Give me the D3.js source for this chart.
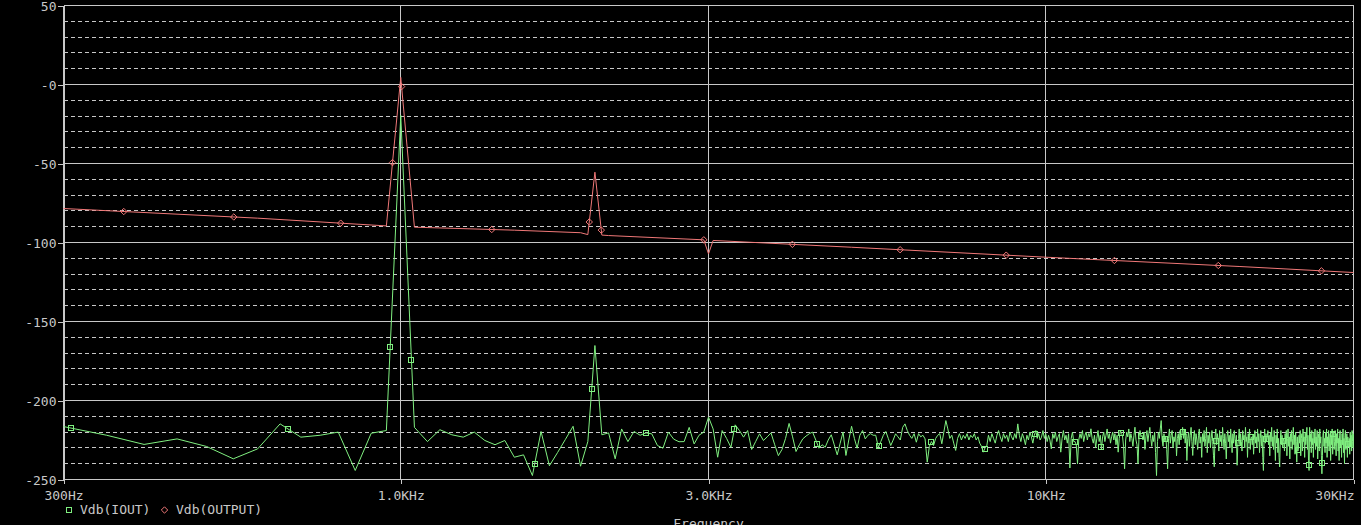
<!DOCTYPE html>
<html><head><meta charset="utf-8">
<script src="https://cdn.jsdelivr.net/npm/d3@7"></script>
<style>html,body{margin:0;padding:0;background:#000;overflow:hidden}</style>
</head><body><svg id="c" width="1361" height="525"></svg>
<script>
// ---- DATA ----
const startHz = 300, stepHz = 50;   // FFT bin grid of the IOUT trace
const ioutDb = [
// 300-1000
-216.5,-222,-227.8,-224.3,-229.1,-236.9,-230.6,-214.8,-223.2,-222,-220,-244.3,-220.7,-219,-19.6,
// 1050-2000
-217,-226,-218.5,-221.7,-223.2,-220,-225.3,-228,-225.3,-235.9,-234.4,-247.5,-219.6,-241.3,-233,-224.6,-216.3,-241.6,-226,-165.2,
// 2050-3000
-221.7,-220.5,-236.9,-218,-226,-219.6,-222,-220.5,-221.1,-228.5,-230.2,-220,-224.5,-226.1,-226,-217,-227.5,-222,-220,-210.5,
// 3050-4000
-218,-235.9,-219,-224,-229.6,-215.4,-219,-223.2,-219,-231,-226,-221.1,-225.3,-223,-220.5,-228,-234.9,-231,-224,-214.5,
// 4050-5000
-223,-232.3,-228,-224.3,-222.5,-221,-220,-225,-230.2,-228,-229.6,-225,-221.7,-228,-234.4,-227,-220,-234.8,-225,-216.3,
// 5050-6000
-224,-230.2,-222,-219,-224.3,-222,-221,-222,-222,-229.6,-226,-222,-219.6,-224,-228.5,-225,-221.1,-223,-225,-217,
// 6050-7000
-214.8,-219,-222,-224,-221,-226.4,-221,-223,-222,-224.3,-239,-229,-226,-228.5,-224,-222,-221,-227.4,-220,-212.7,
// 7050-8000
-218,-224,-222,-227,-231.6,-224,-221,-225,-222,-224,-221,-225,-222,-223.5,-221,-225,-223,-227,-229,-232.7,
// 8050-9000
-230,-229,-222,-226,-221,-224,-227,-222,-219,-223,-226,-221,-224,-222,-226,-220,-223,-225,-221,-224,
// 9050-10000
-214.8,-222,-226,-221,-224,-228,-222,-225,-220,-223,-227,-222,-219,-224,-221,-225,-223.2,-219,-224,-221,
// 10050-11000
-226,-222,-225,-230.6,-221,-224,-220,-226,-223,-221,-232.7,-224,-219,-225,-222,-227,-221,-242.7,-224,-220,
// 11050-12000
-226,-226,-228,-240,-225,-221,-224,-219,-226,-222,-220,-225,-221,-223,-217.9,-224,-227,-222,-230,-224,
// 12050-13000
-219,-226,-222,-231,-223,-220,-226,-222,-218,-224,-221,-227,-223,-220,-225,-221,-228,-222,-232.7,-224,
// 13050-14000
-219,-221,-222,-229,-243.2,-225,-220,-223,-218,-226,-221,-224,-229,-222,-216.9,-225,-228,-240,-223,-219,
// 14050-15000
-223,-222,-225,-220,-231,-223,-219,-226,-221,-217,-224,-229,-222,-226,-220,-233,-247.5,-226,-220,-224,
// 15050-16000
-218,-212.7,-225,-229,-221,-226,-223,-231,-243.2,-224,-218,-227,-222,-219,-230,-223,-226,-220,-235,-224,
// 16050-17000
-221,-228,-219,-225,-222,-217,-224,-218,-227,-221,-238,-224,-220,-229,-222,-217,-226,-234.8,-223,-219,
// 17050-18000
-228,-221,-225,-231,-222,-218,-227,-223,-236,-221,-226,-219,-229,-224,-217,-233,-222,-227,-220,-230,
// 18050-19000
-224,-219,-226,-235,-242,-223,-218,-228,-221,-225,-232,-219,-226,-222,-229,-217,-224,-231,-221,-227,
// 19050-20000
-237,-223,-219,-226,-222,-230,-218,-225,-233,-221,-227,-219,-224,-229,-222,-241,-228.5,-224,-218,-228,
// 20050-21000
-221,-226,-232,-219,-225,-222,-230,-217,-226,-223,-236,-221,-227,-218,-231,-224,-223,-228,-222,-234,
// 21050-22000
-225,-219,-227,-223,-230,-218,-226,-221,-233,-224,-219,-229,-222,-236,-244.3,-225,-218,-227,-221,-226,
// 22050-23000
-223,-219,-228,-222,-235,-220,-226,-217,-229,-223,-231,-219,-225,-238,-222,-227,-218,-233,-224,-236,
// 23050-24000
-242,-225,-219,-228,-222,-230,-224,-226,-232,-221,-227,-219,-235,-224,-218,-229,-223,-237,-221,-226,
// 24050-25000
-219,-231,-224,-217,-228,-222,-234,-220,-226,-239,-223,-232,-230,-222,-227,-219,-235,-224,-221,-232,
// 25050-26000
-218,-226,-223,-236,-220,-228,-224,-217,-231,-222,-238,-244.3,-217,-226,-221,-233,-219,-228,-224,-236,
// 26050-27000
-220,-227,-218,-231,-223,-229,-219,-237,-224,-221,-232,-218,-227,-223,-235,-246.4,-235,-222,-219,-229,
// 27050-28000
-224,-233,-220,-227,-218,-236,-223,-229,-219,-232,-225,-221,-238,-222,-228,-218,-234,-221,-220,-231,
// 28050-29000
-226,-219,-229,-235,-221,-227,-218,-232,-224,-238,-222,-219,-230,-225,-236,-221,-228,-218,-233,-224,
// 29050-30000
-240,-222,-219,-231,-225,-221,-236,-223,-228.5,-229,-224,-234,-220,-227,-222,-232,-219,-226,-230,-221
];
const outputHz = [300, 600, 950, 1000, 1050, 1500, 1900, 1950, 2000, 2050, 2100, 2950, 3000, 3050, 5000, 10000, 20000, 30000];
const outputDb = [-78.5, -84.6, -89.5, 4.5, -90.3, -92.2, -93.8, -95, -55.5, -95.3, -95.6, -98.3, -107.2, -98.7, -103, -109.3, -115.2, -119];
const ioutMarkerHz = [308, 668, 963, 1039, 1613, 1977, 2402, 3290, 4422, 5510, 6643, 8036, 9609, 11085, 12192, 13095, 14070, 15286, 16323, 18387, 19869, 20832, 21984, 23337, 24622, 25572, 26830, 27900, 29439];
const outputMarkerHz = [372, 551, 807, 971, 1003, 1384, 1960, 2046, 2950, 4047, 5946, 8683, 12777, 18515, 26757];
const yTicks = [50, 0, -50, -100, -150, -200, -250];
const yTickLabels = ["50", "-0", "-50", "-100", "-150", "-200", "-250"];
const yMinorTicks = d3.range(-240, 50, 10).filter(v => v % 50 !== 0);
const xTicks = [300, 1000, 3000, 10000, 30000];
const xTickLabels = ["300Hz", "1.0KHz", "3.0KHz", "10KHz", "30KHz"];
const legendLabels = ["Vdb(IOUT)", "Vdb(OUTPUT)"];
const xTitle = "Frequency";

// ---- STYLE ----
const GRID = "#c8c8c8", TEXT = "#c8c8c8", GREEN = "#80f080", RED = "#f07878";
const FONT = "'DejaVu Sans Mono', 'Liberation Mono', monospace";
const FS = "13px";

const svg = d3.select("#c");
svg.append("rect").attr("width", 1361).attr("height", 525).attr("fill", "#000");

const x = d3.scaleLog().domain([300, 30000]).range([63.5, 1353.5]);
const y = d3.scaleLinear().domain([-250, 50]).range([479.5, 5.5]);
const L = x.range()[0], R = x.range()[1], T = y.range()[1], B = y.range()[0];

const g = svg.append("g").attr("shape-rendering", "crispEdges");
g.selectAll("line.minor").data(yMinorTicks).join("line")
  .attr("x1", L).attr("x2", R).attr("y1", d => y(d)).attr("y2", d => y(d))
  .attr("stroke", GRID).attr("stroke-width", 1).attr("stroke-dasharray", "4,3");
g.selectAll("line.major").data(yTicks).join("line")
  .attr("x1", L).attr("x2", R).attr("y1", d => y(d)).attr("y2", d => y(d))
  .attr("stroke", GRID).attr("stroke-width", 1);
g.selectAll("line.vg").data(xTicks).join("line")
  .attr("x1", d => x(d)).attr("x2", d => x(d)).attr("y1", T).attr("y2", B)
  .attr("stroke", GRID).attr("stroke-width", 1);

const yAxis = d3.axisLeft(y).tickValues(yTicks).tickFormat((d, i) => yTickLabels[i]).tickSize(6).tickPadding(2);
const ya = svg.append("g").attr("transform", `translate(${L},0)`).call(yAxis);
ya.attr("font-size", null).attr("font-family", null);
ya.select(".domain").attr("stroke", GRID).attr("shape-rendering", "crispEdges");
ya.selectAll(".tick line").attr("stroke", GRID).attr("shape-rendering", "crispEdges");
ya.selectAll(".tick text").attr("fill", TEXT).attr("font-family", FONT).attr("font-size", FS)
  .attr("x", -7).attr("dy", "0.36em");

const xAxis = d3.axisBottom(x).tickValues(xTicks).tickFormat((d, i) => xTickLabels[i]).tickSize(4).tickPadding(7);
const xa = svg.append("g").attr("transform", `translate(0,${B})`).call(xAxis);
xa.attr("font-size", null).attr("font-family", null);
xa.select(".domain").remove();
xa.selectAll(".tick line").attr("stroke", GRID).attr("shape-rendering", "crispEdges");
xa.selectAll(".tick text").attr("fill", TEXT).attr("font-family", FONT).attr("font-size", FS)
  .attr("text-anchor", (d, i) => i === xTicks.length - 1 ? "end" : "middle")
  .attr("x", (d, i) => i === xTicks.length - 1 ? 0.5 : 0);

// ---- TRACES ----
const ioutHz = ioutDb.map((_, i) => startHz + i * stepHz);
const line = d3.line().x(d => x(d[0])).y(d => y(d[1]));
const ioutPts = ioutHz.map((f, i) => [f, ioutDb[i]]);
const outPts = outputHz.map((f, i) => [f, outputDb[i]]);

svg.append("path").attr("d", line(ioutPts)).attr("fill", "none").attr("stroke", GREEN).attr("stroke-width", 1);
svg.append("path").attr("d", line(outPts)).attr("fill", "none").attr("stroke", RED).attr("stroke-width", 1);

const ioutAt = d3.scaleLog().domain(ioutHz).range(ioutDb);
const outAt = d3.scaleLog().domain(outputHz).range(outputDb);
const sq = 5, dm = 3.2;
svg.selectAll("rect.gm").data(ioutMarkerHz).join("rect")
  .attr("x", d => Math.round(x(d)) - sq / 2).attr("y", d => Math.round(y(ioutAt(d))) - sq / 2)
  .attr("width", sq).attr("height", sq).attr("fill", "none").attr("stroke", GREEN).attr("stroke-width", 1)
  .attr("shape-rendering", "crispEdges");
const diamond = (cx, cy) => `M${cx},${cy - dm}L${cx + dm},${cy}L${cx},${cy + dm}L${cx - dm},${cy}Z`;
svg.selectAll("path.rm").data(outputMarkerHz).join("path")
  .attr("d", d => diamond(x(d), y(outAt(d)))).attr("fill", "none").attr("stroke", RED).attr("stroke-width", 1);

// ---- LEGEND ----
const lg = svg.append("g");
lg.append("rect").attr("x", 66).attr("y", 507.5).attr("width", sq).attr("height", sq)
  .attr("fill", "none").attr("stroke", GREEN).attr("shape-rendering", "crispEdges");
lg.append("text").attr("x", 80).attr("y", 514).text(legendLabels[0])
  .attr("fill", TEXT).attr("font-family", FONT).attr("font-size", FS);
lg.append("path").attr("d", diamond(164.5, 510)).attr("fill", "none").attr("stroke", RED);
lg.append("text").attr("x", 176).attr("y", 514).text(legendLabels[1])
  .attr("fill", TEXT).attr("font-family", FONT).attr("font-size", FS);

svg.append("text").attr("x", (L + R) / 2).attr("y", 528).attr("text-anchor", "middle").text(xTitle)
  .attr("fill", TEXT).attr("font-family", FONT).attr("font-size", FS);
</script></body></html>
